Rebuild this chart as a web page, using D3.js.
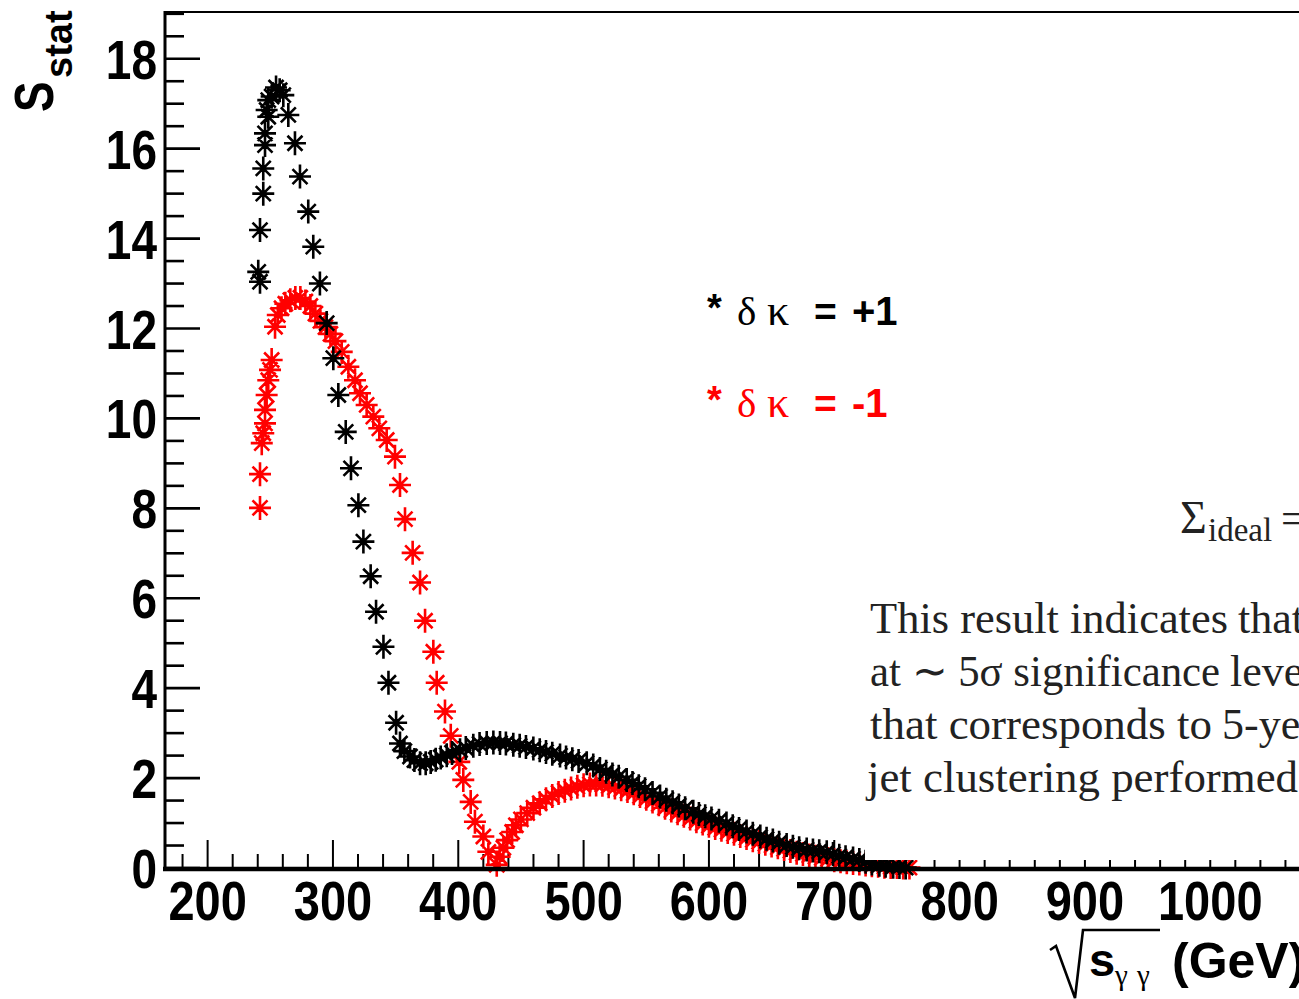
<!DOCTYPE html>
<html><head><meta charset="utf-8">
<script src="https://cdn.jsdelivr.net/npm/d3@7"></script>
<style>body{margin:0;background:#fff}svg{display:block}</style>
</head><body>
<svg id="c" width="1299" height="999"></svg>
<script>
// ---- data (sqrt(s) in GeV, S_stat) ----
const blackSeries = [[240.4,13.26],[241.8,13.04],[241.8,14.19],[244.4,15.0],[244.4,15.56],[245.8,16.08],[245.8,16.34],[247.1,16.86],[248.4,16.71],[248.4,17.08],[251.1,17.16],[254.6,17.36],[257.5,17.3],[260.4,17.19],[264.4,16.75],[269.7,16.12],[273.7,15.38],[280.3,14.6],[284.3,13.82],[289.6,13.0],[295.0,12.12],[300.3,11.34],[304.3,10.52],[310.2,9.70],[314.4,8.89],[320.3,8.07],[324.3,7.26],[330.1,6.49],[334.4,5.70],[340.3,4.92],[344.3,4.12],[350.4,3.23],[353.5,2.77],[357,2.6],[361.5,2.48],[365,2.4],[369.5,2.33],[374,2.33],[378,2.36],[382,2.41],[386,2.46],[390.8,2.51],[395,2.56],[401.4,2.62],[406,2.67],[412,2.72],[417,2.76],[422.7,2.78],[428,2.79],[433.3,2.78],[438,2.77],[443.9,2.74],[449,2.72],[454,2.69],[459.9,2.66],[465,2.62],[470,2.58],[475,2.54],[481.2,2.50],[486,2.46],[491,2.42],[496,2.38],[502.5,2.33],[507.7,2.28],[513,2.2],[518,2.14],[523,2.08],[528,2.03],[534.4,1.96],[539,1.89],[544,1.82],[549,1.75],[555,1.67],[561,1.59],[566,1.52],[571,1.46],[576,1.39],[581,1.33],[587.5,1.25],[592,1.2],[597,1.15],[602,1.1],[608,1.05],[614,0.99],[619,0.93],[624,0.87],[630,0.81],[635,0.76],[641,0.70],[646,0.65],[651,0.61],[656,0.56],[662,0.51],[667,0.47],[672,0.44],[678,0.41],[683,0.39],[688,0.37],[694,0.35],[699,0.31],[704,0.27],[709,0.24],[715,0.21],[720,0.18],[725,0.14],[730,0.10],[736,0.07],[741,0.05],[747,0.03],[752,0.02],[757,0.01]];

const redSeries = [[241.8,8.01],[241.8,8.76],[243.2,9.45],[244.4,9.67],[245.8,9.89],[245.8,10.19],[247.1,10.52],[248.4,10.85],[249.8,11.08],[251.1,11.30],[253.8,12.04],[256,12.3],[259,12.45],[262,12.55],[266,12.63],[270,12.68],[274,12.68],[278,12.6],[282,12.5],[286,12.33],[290,12.17],[294,12.03],[298,11.88],[302,11.72],[307,11.48],[312.3,11.15],[317.6,10.85],[321.6,10.56],[326.9,10.30],[332.2,10.04],[337,9.78],[342.9,9.52],[349.5,9.15],[353.5,8.52],[357.5,7.76],[363.6,7.01],[369.5,6.35],[373.5,5.50],[380.1,4.81],[382.8,4.12],[389.4,3.48],[394.0,2.94],[400.8,2.36],[404.0,1.96],[409.9,1.47],[413.3,1.03],[420.0,0.70],[424.0,0.36],[430.7,0.07],[433,0.25],[436,0.45],[439,0.62],[443,0.8],[446,0.95],[450,1.08],[455,1.22],[460,1.34],[465,1.44],[470,1.53],[475,1.6],[480,1.67],[485,1.72],[490,1.77],[495,1.81],[500,1.84],[505,1.86],[510,1.86],[515,1.85],[520,1.82],[525,1.79],[530,1.75],[535,1.71],[540,1.66],[545,1.6],[550,1.54],[555,1.48],[560,1.42],[565,1.34],[570,1.28],[575,1.22],[580,1.16],[585,1.10],[590,1.04],[595,0.99],[600,0.94],[605,0.89],[610,0.85],[615,0.80],[620,0.76],[625,0.71],[630,0.67],[635,0.62],[640,0.58],[645,0.54],[650,0.50],[655,0.46],[660,0.42],[665,0.38],[670,0.34],[675,0.31],[680,0.28],[685,0.25],[690,0.22],[695,0.20],[700,0.17],[705,0.15],[710,0.13],[715,0.11],[720,0.10],[725,0.08],[730,0.06],[735,0.05],[740,0.03],[745,0.02],[750,0.02],[755,0.01],[760,0.01]];

const xTickLabels = [200,300,400,500,600,700,800,900,1000];
const yTickLabels = [0,2,4,6,8,10,12,14,16,18];
const legendEntries = [{label:"+1", color:"#000000"},{label:"-1", color:"#ff0000"}];
const noteHeads = ["This result indicates","at \u223c 5\u03c3 significance","that corresponds to","jet clustering performed"];
const noteTails = ["that","level","5-year",""];

// ---- scales ----
const svg = d3.select("#c");
const x = d3.scaleLinear().domain([166, 1100]).range([165, 165 + 934*1.2533]);
const y = d3.scaleLinear().domain([0, 19.04]).range([868, 12]);

// ---- frame ----
svg.append("line").attr("x1",165).attr("x2",1299).attr("y1",12).attr("y2",12).attr("stroke","#000").attr("stroke-width",2);

// y axis ticks (inward)
const yMinor = d3.range(0, 19.01, 0.5);
svg.append("g").selectAll("line").data(yMinor).join("line")
  .attr("x1",165).attr("x2",d => (d % 2 === 0) ? 200 : 184)
  .attr("y1",d=>y(d)).attr("y2",d=>y(d)).attr("stroke","#000").attr("stroke-width",2.6);
// x axis ticks (inward)
const xMinor = d3.range(180, 1101, 20);
svg.append("g").selectAll("line").data(xMinor).join("line")
  .attr("x1",d=>x(d)).attr("x2",d=>x(d))
  .attr("y1",868).attr("y2",d => (d % 100 === 0) ? 840 : 854)
  .attr("stroke","#000").attr("stroke-width",2);

// ---- markers ----
function asterisk(cx, cy){
  return `M${cx-11},${cy}h22M${cx},${cy-12}v24M${cx-7.5},${cy-7.5}l15,15M${cx-7.5},${cy+7.5}l15,-15`;
}
const gm = svg.append("g");
gm.append("path").attr("d", redSeries.map(d=>asterisk(x(d[0]), y(d[1]))).join(""))
  .attr("stroke","#ff0000").attr("stroke-width",2.6).attr("fill","none");
gm.append("path").attr("d", blackSeries.map(d=>asterisk(x(d[0]), y(d[1]))).join(""))
  .attr("stroke","#000").attr("stroke-width",2.6).attr("fill","none");

// axis lines
svg.append("line").attr("x1",165).attr("x2",165).attr("y1",11).attr("y2",870).attr("stroke","#000").attr("stroke-width",3);
svg.append("line").attr("x1",163).attr("x2",1299).attr("y1",869).attr("y2",869).attr("stroke","#000").attr("stroke-width",4.5);

// ---- tick labels ----
const ft = "'Liberation Sans', Arial, Helvetica, sans-serif";
svg.append("g").selectAll("text").data(xTickLabels).join("text")
  .attr("transform", d=>`translate(${x(d)},920) scale(1,1.2)`)
  .attr("text-anchor","middle").attr("font-family",ft).attr("font-weight","bold").attr("font-size",47)
  .text(d=>d);
svg.append("g").selectAll("text").data(yTickLabels).join("text")
  .attr("transform", d=>`translate(157,${y(d)+20}) scale(1,1.2)`)
  .attr("text-anchor","end").attr("font-family",ft).attr("font-weight","bold").attr("font-size",46)
  .text(d=>d);

// ---- y title ----
svg.append("text").attr("transform","translate(53,112) rotate(-90) scale(1,1.2)")
  .attr("font-family",ft).attr("font-weight","bold").attr("font-size",46).text("S");
svg.append("text").attr("transform","translate(72,78) rotate(-90)")
  .attr("font-family",ft).attr("font-weight","bold").attr("font-size",38).text("stat");

// ---- x title ----
svg.append("path").attr("d","M1050,950 L1056,946 L1075,998 L1083,930 L1160,930")
  .attr("stroke","#000").attr("stroke-width",2.6).attr("fill","none");
svg.append("text").attr("x",1089).attr("y",976).attr("font-family",ft).attr("font-weight","bold").attr("font-size",47).text("s");
svg.append("text").attr("x",1115).attr("y",985).attr("font-family","'Liberation Serif', serif").attr("font-size",29).text("\u03b3");
svg.append("text").attr("x",1137).attr("y",985).attr("font-family","'Liberation Serif', serif").attr("font-size",29).text("\u03b3");
svg.append("text").attr("x",1172).attr("y",978).attr("font-family",ft).attr("font-weight","bold").attr("font-size",50).text("(GeV)");

// ---- legend ----
const lg = svg.append("g").selectAll("g").data(legendEntries).join("g")
  .attr("transform",(d,i)=>`translate(0,${325 + i*92})`).attr("fill",d=>d.color);
lg.append("text").attr("x",707).attr("y",-4).attr("font-family",ft).attr("font-weight","bold").attr("font-size",38).text("*");
lg.append("text").attr("x",737).attr("y",0).attr("font-family","'Liberation Serif', serif").attr("font-size",41).text("\u03b4");
lg.append("text").attr("x",767).attr("y",0).attr("font-family","'Liberation Serif', serif").attr("font-size",44).text("\u03ba");
lg.append("text").attr("x",814).attr("y",0).attr("font-family",ft).attr("font-weight","bold").attr("font-size",39).text("=");
lg.append("text").attr("x",852).attr("y",0).attr("font-family",ft).attr("font-weight","bold").attr("font-size",40).text(d=>d.label);

// ---- overlaid page text ----
svg.append("rect").attr("x",865).attr("y",470).attr("width",434).attr("height",390).attr("fill","#fff");
const serif = "'Liberation Serif', 'Times New Roman', serif";
svg.append("text").attr("x",1180).attr("y",533).attr("font-family",serif).attr("font-size",46).attr("fill","#222").text("\u03a3");
svg.append("text").attr("x",1208).attr("y",541).attr("font-family",serif).attr("font-size",33).attr("fill","#222").text("ideal");
svg.append("text").attr("x",1281).attr("y",533).attr("font-family",serif).attr("font-size",44).attr("fill","#222").text("=");
const headLen = [358, 350, 342, 431];
const headX = [870, 870, 870, 867];
const tailX = [1238, 1230, 1222, 1299];
const gn = svg.append("g").attr("font-family",serif).attr("font-size",44).attr("fill","#222");
gn.selectAll("text.h").data(noteHeads).join("text").attr("class","h")
  .attr("x",(d,i)=>headX[i]).attr("y",(d,i)=>633 + i*53)
  .attr("textLength",(d,i)=>headLen[i]).attr("lengthAdjust","spacingAndGlyphs")
  .text(d=>d);
gn.selectAll("text.t").data(noteTails).join("text").attr("class","t")
  .attr("x",(d,i)=>tailX[i]).attr("y",(d,i)=>633 + i*53)
  .text(d=>d);
</script>
</body></html>
